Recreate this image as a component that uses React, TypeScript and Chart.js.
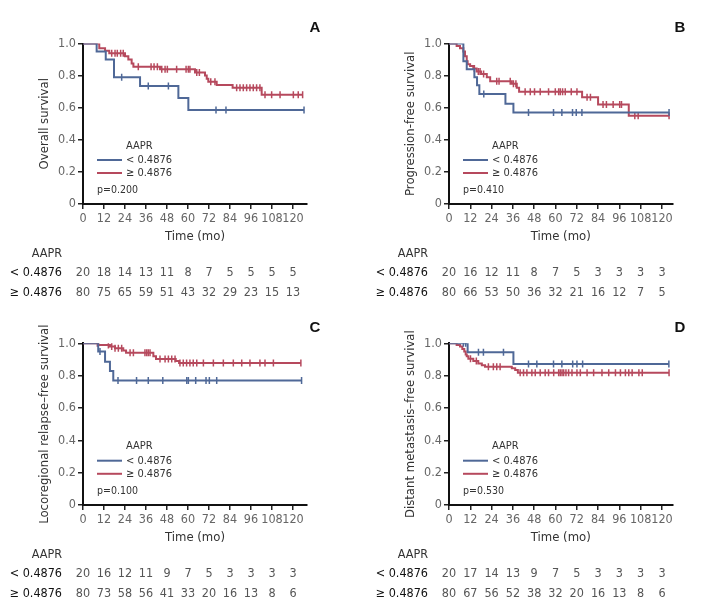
import React, { useEffect, useRef } from 'react';
import { Chart, registerables } from 'chart.js';

Chart.register(...registerables);

const FONT = "'Liberation Sans Narrow', 'DejaVu Sans Condensed', 'Arial Narrow', sans-serif";
const BOLD_FONT = "'Liberation Sans', Arial, sans-serif";
const BLUE = '#4f6897';
const RED = '#b6495d';

const X_TICKS = [0, 12, 24, 36, 48, 60, 72, 84, 96, 108, 120];
const Y_TICKS = [0, 0.2, 0.4, 0.6, 0.8, 1.0];
const GROUP_TITLE = 'AAPR';
const LOW_LABEL = '< 0.4876';
const HIGH_LABEL = '\u2265 0.4876';

// ---- Panel A: Overall survival ----
const aLowT = [0, 7.8, 13, 17.7, 32.6, 54.5, 60.2, 126.3];
const aLowS = [1, 0.95, 0.9, 0.79, 0.735, 0.66, 0.585, 0.585];
const aLowCens = [22.1, 37.3, 48.8, 76, 81.7, 126.3];
const aHighT = [0, 9.3, 12.6, 15.0, 24.0, 25.9, 27.8, 28.8, 44.0, 64.0, 69.7, 70.7, 71.6, 76.4, 85.5, 102.1, 125.5];
const aHighS = [1, 0.97, 0.955, 0.94, 0.92, 0.9, 0.875, 0.855, 0.84, 0.82, 0.8, 0.78, 0.762, 0.742, 0.725, 0.68, 0.68];
const aHighCens = [16.4, 18.3, 19.6, 21.5, 23.0, 31.6, 38.9, 40.6, 42.5, 45, 46.9, 48.2, 53.5, 58.9, 60.2, 61.1, 65, 66.5, 73, 75.4, 87.8, 89.7, 91.6, 93.5, 95.4, 97.3, 99.2, 101.1, 104, 107.8, 112.6, 120.2, 123, 125.5];
const aRiskLow = [20, 18, 14, 13, 11, 8, 7, 5, 5, 5, 5];
const aRiskHigh = [80, 75, 65, 59, 51, 43, 32, 29, 23, 15, 13];

// ---- Panel B: Progression-free survival ----
const bLowT = [0, 8.1, 10.0, 14.3, 15.8, 17.1, 31.8, 36.3, 124];
const bLowS = [1, 0.89, 0.84, 0.79, 0.74, 0.685, 0.625, 0.57, 0.57];
const bLowCens = [19.6, 44.8, 58.9, 63.6, 69.6, 71.7, 74.9, 124];
const bHighT = [0, 4.3, 6.2, 8.1, 9.0, 10.0, 10.5, 11.9, 13.7, 15.6, 18.1, 21.3, 23.2, 35.4, 38.2, 39.5, 75, 84, 101.3, 124];
const bHighS = [1, 0.985, 0.97, 0.95, 0.92, 0.89, 0.87, 0.86, 0.845, 0.825, 0.81, 0.79, 0.765, 0.75, 0.725, 0.7, 0.665, 0.62, 0.55, 0.55];
const bHighCens = [14.3, 16.5, 17.5, 19.5, 26.9, 28.2, 34.5, 36.3, 37.7, 42.9, 45.8, 48.2, 51.4, 56.1, 59.9, 61.8, 62.7, 64, 65.5, 68.9, 72.1, 77.8, 79.7, 86.8, 88.7, 92.5, 96.2, 97.2, 104.7, 106.6, 124];
const bRiskLow = [20, 16, 12, 11, 8, 7, 5, 3, 3, 3, 3];
const bRiskHigh = [80, 66, 53, 50, 36, 32, 21, 16, 12, 7, 5];

// ---- Panel C: Locoregional relapse-free survival ----
const cLowT = [0, 8.7, 12.6, 15.4, 17.3, 124.9];
const cLowS = [1, 0.95, 0.886, 0.829, 0.77, 0.77];
const cLowCens = [9.7, 20, 30.6, 37.3, 45.6, 59.3, 60.2, 64.4, 70.3, 72.2, 76.4, 124.9];
const cHighT = [0, 8.7, 15.4, 18.3, 23.0, 24.6, 40.2, 41.7, 53.0, 54.9, 124.5];
const cHighS = [1, 0.99, 0.98, 0.97, 0.955, 0.942, 0.92, 0.903, 0.89, 0.878, 0.878];
const cHighCens = [8.2, 14.5, 16.4, 18.3, 20.2, 22.1, 26.9, 28.8, 35.4, 36.4, 37.3, 38.3, 44, 46.9, 48.8, 50.7, 52.6, 55.4, 57.3, 59.2, 61.1, 63, 65, 68.8, 74.5, 80.2, 85.9, 90.7, 95.4, 101.1, 104, 108.8, 124.5];
const cRiskLow = [20, 16, 12, 11, 9, 7, 5, 3, 3, 3, 3];
const cRiskHigh = [80, 73, 58, 56, 41, 33, 20, 16, 13, 8, 6];

// ---- Panel D: Distant metastasis-free survival ----
const dLowT = [0, 10.5, 36.3, 123.9];
const dLowS = [1, 0.944, 0.872, 0.872];
const dLowCens = [8.1, 9.4, 16.6, 19.4, 30.7, 44.8, 49.5, 58.9, 63.6, 69.7, 72.1, 75.3, 123.9];
const dHighT = [0, 4.3, 6.2, 7.5, 8.6, 9.4, 10.0, 10.9, 13.7, 16.5, 18.5, 20.3, 35.4, 37.3, 38.8, 124];
const dHighS = [1, 0.99, 0.98, 0.965, 0.95, 0.93, 0.92, 0.905, 0.89, 0.875, 0.865, 0.855, 0.845, 0.835, 0.818, 0.818];
const dHighCens = [12.1, 15.4, 22.2, 25.0, 26.9, 28.8, 40.1, 42, 43.9, 46.7, 48.6, 51.4, 54.2, 56.1, 59, 61.8, 62.7, 63.7, 64.6, 65.9, 67.4, 69.3, 72.1, 74, 77.8, 81.5, 86.2, 90, 93.8, 96.6, 99.4, 101.3, 103.2, 107, 108.9, 124];
const dRiskLow = [20, 17, 14, 13, 9, 7, 5, 3, 3, 3, 3];
const dRiskHigh = [80, 67, 56, 52, 38, 32, 20, 16, 13, 8, 6];

const Y_W = 46;
const X_H = 40.4;

function survAt(times: number[], surv: number[], t: number) {
  let s = surv[0];
  for (let i = 0; i < times.length; i++) if (times[i] <= t) s = surv[i];
  return s;
}

type PanelCfg = {
  left: number; top: number; w: number; h: number;
  cl: number; cr: number; ct: number; cb: number; xMax: number;
  letter: string; lx: number; ly: number;
  yTitle: string; p: string;
  lowT: number[]; lowS: number[]; lowC: number[];
  highT: number[]; highS: number[]; highC: number[];
  riskLow: number[]; riskHigh: number[];
};

const panels: PanelCfg[] = [
  { left: 0, top: 0, w: 350, h: 305, cl: 83, cr: 307, ct: 43.5, cb: 204, xMax: 128, letter: 'A', lx: 315, ly: 28,
    yTitle: 'Overall survival', p: 'p=0.200', lowT: aLowT, lowS: aLowS, lowC: aLowCens, highT: aHighT, highS: aHighS, highC: aHighCens, riskLow: aRiskLow, riskHigh: aRiskHigh },
  { left: 350, top: 0, w: 351, h: 305, cl: 99, cr: 322.6, ct: 43.5, cb: 204, xMax: 126, letter: 'B', lx: 330, ly: 28,
    yTitle: 'Progression-free survival', p: 'p=0.410', lowT: bLowT, lowS: bLowS, lowC: bLowCens, highT: bHighT, highS: bHighS, highC: bHighCens, riskLow: bRiskLow, riskHigh: bRiskHigh },
  { left: 0, top: 305, w: 350, h: 307, cl: 83, cr: 307, ct: 38.3, cb: 200, xMax: 128, letter: 'C', lx: 315, ly: 23,
    yTitle: 'Locoregional relapse\u2013free survival', p: 'p=0.100', lowT: cLowT, lowS: cLowS, lowC: cLowCens, highT: cHighT, highS: cHighS, highC: cHighCens, riskLow: cRiskLow, riskHigh: cRiskHigh },
  { left: 350, top: 305, w: 351, h: 307, cl: 99, cr: 322.6, ct: 38.3, cb: 200, xMax: 126, letter: 'D', lx: 330, ly: 23,
    yTitle: 'Distant metastasis\u2013free survival', p: 'p=0.530', lowT: dLowT, lowS: dLowS, lowC: dLowCens, highT: dHighT, highS: dHighS, highC: dHighCens, riskLow: dRiskLow, riskHigh: dRiskHigh },
];

function Panel({ cfg }: { cfg: PanelCfg }) {
  const ref = useRef<HTMLCanvasElement | null>(null);
  useEffect(() => {
    const canvas = ref.current;
    if (!canvas) return;
    const extras = {
      id: 'kmExtras',
      afterDraw(chart: any) {
        const ctx = chart.ctx;
        const ca = chart.chartArea;
        const xs = chart.scales.x;
        const ys = chart.scales.y;
        ctx.save();
        // panel letter
        ctx.font = `bold 15px ${BOLD_FONT}`;
        ctx.fillStyle = '#111';
        ctx.textAlign = 'center';
        ctx.textBaseline = 'middle';
        ctx.fillText(cfg.letter, cfg.lx, cfg.ly);
        // legend
        ctx.font = `11px ${FONT}`;
        ctx.fillStyle = '#333';
        ctx.textAlign = 'left';
        ctx.fillText(GROUP_TITLE, ca.left + 43, ys.getPixelForValue(0.361));
        const y1 = ys.getPixelForValue(0.274);
        const y2 = ys.getPixelForValue(0.193);
        ctx.lineWidth = 2;
        ctx.strokeStyle = BLUE;
        ctx.beginPath(); ctx.moveTo(ca.left + 14, y1); ctx.lineTo(ca.left + 39, y1); ctx.stroke();
        ctx.strokeStyle = RED;
        ctx.beginPath(); ctx.moveTo(ca.left + 14, y2); ctx.lineTo(ca.left + 39, y2); ctx.stroke();
        ctx.fillText(LOW_LABEL, ca.left + 43, y1);
        ctx.fillText(HIGH_LABEL, ca.left + 43, y2);
        ctx.font = `10.5px ${FONT}`;
        ctx.fillText(cfg.p, ca.left + 14, ys.getPixelForValue(0.087));
        // risk table
        const r0 = ca.bottom + 50, r1 = ca.bottom + 69, r2 = ca.bottom + 88.5;
        ctx.font = `12.5px ${FONT}`;
        ctx.textAlign = 'right';
        ctx.fillStyle = '#333';
        ctx.fillText(GROUP_TITLE, ca.left - 21, r0);
        ctx.fillStyle = '#111';
        ctx.fillText(LOW_LABEL, ca.left - 21, r1);
        ctx.fillText(HIGH_LABEL, ca.left - 21, r2);
        ctx.textAlign = 'center';
        ctx.fillStyle = '#555';
        X_TICKS.forEach((t, i) => {
          const x = xs.getPixelForValue(t);
          ctx.fillText(String(cfg.riskLow[i]), x, r1);
          ctx.fillText(String(cfg.riskHigh[i]), x, r2);
        });
        ctx.restore();
      },
    };
    const mkLine = (T: number[], S: number[], color: string) => ({
      type: 'line',
      data: T.map((t, i) => ({ x: t, y: S[i] })),
      stepped: 'before',
      borderColor: color,
      borderWidth: 2,
      pointRadius: 0,
      fill: false,
    });
    const mkCens = (C: number[], T: number[], S: number[], color: string) => ({
      type: 'scatter',
      data: C.map((t) => ({ x: t, y: survAt(T, S, t) })),
      showLine: false,
      pointStyle: 'line',
      rotation: 90,
      pointRadius: 3.5,
      pointBorderWidth: 1.5,
      borderColor: color,
      backgroundColor: color,
      pointBorderColor: color,
    });
    const tickFont = { family: FONT, size: 12.5 };
    const chart = new Chart(canvas, {
      type: 'line',
      data: {
        datasets: [
          mkLine(cfg.lowT, cfg.lowS, BLUE),
          mkCens(cfg.lowC, cfg.lowT, cfg.lowS, BLUE),
          mkLine(cfg.highT, cfg.highS, RED),
          mkCens(cfg.highC, cfg.highT, cfg.highS, RED),
        ] as any,
      },
      options: {
        animation: false,
        responsive: false,
        events: [],
        layout: {
          padding: {
            left: cfg.cl - Y_W,
            right: cfg.w - cfg.cr,
            top: cfg.ct,
            bottom: cfg.h - cfg.cb - X_H,
          },
        },
        plugins: { legend: { display: false }, tooltip: { enabled: false } },
        scales: {
          x: {
            type: 'linear',
            min: 0,
            max: cfg.xMax,
            afterBuildTicks: (s: any) => { s.ticks = X_TICKS.map((v) => ({ value: v })); },
            afterFit: (s: any) => { s.height = X_H; },
            ticks: { font: tickFont, color: '#666', padding: 2, maxRotation: 0, autoSkip: false },
            grid: { drawOnChartArea: false, drawTicks: true, tickLength: 5, color: '#222', lineWidth: 1.5 },
            border: { display: true, color: '#111', width: 2 },
            title: { display: true, text: 'Time (mo)', font: { family: FONT, size: 13 }, color: '#333', padding: 0 },
          },
          y: {
            type: 'linear',
            min: 0,
            max: 1,
            afterBuildTicks: (s: any) => { s.ticks = Y_TICKS.map((v) => ({ value: v })); },
            afterFit: (s: any) => { s.width = Y_W; },
            ticks: {
              font: tickFont, color: '#666', padding: 2,
              callback: (v: any) => (Number(v) === 0 ? '0' : Number(v).toFixed(1)),
            },
            grid: { drawOnChartArea: false, drawTicks: true, tickLength: 5, color: '#222', lineWidth: 1.5 },
            border: { display: true, color: '#111', width: 2 },
            title: { display: true, text: cfg.yTitle, font: { family: FONT, size: 13 }, color: '#333', padding: 0 },
          },
        },
      } as any,
      plugins: [extras],
    });
    return () => chart.destroy();
  }, [cfg]);
  return (
    <canvas
      ref={ref}
      width={cfg.w}
      height={cfg.h}
      style={{ position: 'absolute', left: cfg.left, top: cfg.top, width: cfg.w, height: cfg.h }}
    />
  );
}

export default function App() {
  return (
    <div style={{ position: 'absolute', left: 0, top: 0, width: 701, height: 612, background: '#fff', overflow: 'hidden' }}>
      {panels.map((p) => (
        <Panel key={p.letter} cfg={p} />
      ))}
    </div>
  );
}
